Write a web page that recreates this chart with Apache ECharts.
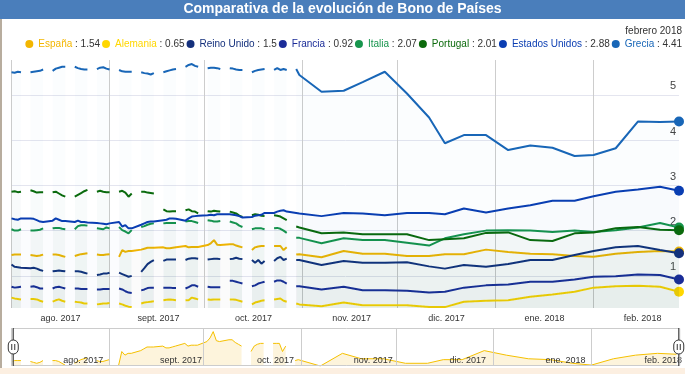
<!DOCTYPE html>
<html><head><meta charset="utf-8">
<script src="https://cdn.jsdelivr.net/npm/echarts@6/dist/echarts.min.js"></script>
<style>html,body{margin:0;padding:0;background:#fff}#c{width:685px;height:374px}</style>
</head><body><div id="c"></div>
<script>
const G = null;      // gap in the line (no quote that day)
const _ = undefined; // no point, line continues through

const titleText = 'Comparativa de la evolución de Bono de Países';
const periodText = 'febrero 2018';
const monthNames = ['ene.','feb.','mar.','abr.','may.','jun.','jul.','ago.','sept.','oct.','nov.','dic.'];

const dates = [
 '2017-08-01','2017-08-02','2017-08-03','2017-08-04','2017-08-05',
 '2017-08-07','2017-08-08','2017-08-09','2017-08-10','2017-08-11','2017-08-12',
 '2017-08-14','2017-08-15','2017-08-16','2017-08-17','2017-08-18','2017-08-19',
 '2017-08-21','2017-08-22','2017-08-23','2017-08-24','2017-08-25','2017-08-26',
 '2017-08-28','2017-08-29','2017-08-30','2017-08-31','2017-09-01','2017-09-02',
 '2017-09-04','2017-09-05','2017-09-06','2017-09-07','2017-09-08','2017-09-09',
 '2017-09-11','2017-09-12','2017-09-13','2017-09-14','2017-09-15','2017-09-16',
 '2017-09-18','2017-09-19','2017-09-20','2017-09-21','2017-09-22','2017-09-23',
 '2017-09-25','2017-09-26','2017-09-27','2017-09-28','2017-09-29','2017-09-30',
 '2017-10-02','2017-10-03','2017-10-04','2017-10-05','2017-10-06','2017-10-07',
 '2017-10-09','2017-10-10','2017-10-11','2017-10-12','2017-10-13','2017-10-14',
 '2017-10-16','2017-10-17','2017-10-18','2017-10-19','2017-10-20','2017-10-21',
 '2017-10-23','2017-10-24','2017-10-25','2017-10-26','2017-10-27','2017-10-28',
 '2017-10-30',
 '2017-10-31','2017-11-07','2017-11-14','2017-11-20','2017-11-27','2017-12-04','2017-12-11','2017-12-16','2017-12-22','2017-12-29',
 '2018-01-05','2018-01-12','2018-01-19','2018-01-26','2018-02-01','2018-02-08','2018-02-15','2018-02-22','2018-02-28'
];

const espana = [
 1.46,1.47,1.47,1.47,G,
 1.46,1.45,1.44,1.45,1.47,G,
 1.47,1.47,1.46,1.44,1.42,G,
 1.44,1.46,1.48,1.49,1.50,G,
 1.47,1.46,1.46,1.47,1.48,G,
 1.42,1.57,1.53,1.55,1.55,_,
 1.58,1.60,1.62,1.62,1.62,_,
 1.63,1.61,1.61,1.62,1.63,_,
 1.66,1.63,1.64,1.64,1.64,_,
 1.68,1.72,1.79,1.69,1.68,_,
 1.70,1.70,1.67,1.65,1.63,G,
 1.57,1.63,1.65,1.66,1.66,G,
 1.66,1.66,1.66,1.57,1.63,G,
 1.47,
 1.48,1.41,1.55,1.49,1.49,1.44,1.44,1.48,1.48,1.58,
 1.53,1.49,1.48,1.44,1.42,1.49,1.53,1.55,1.54
];
const alemania = [
 0.52,0.50,0.49,0.48,G,
 0.49,0.49,0.48,0.45,0.43,G,
 0.43,0.46,0.48,0.45,0.43,G,
 0.43,0.42,0.41,0.39,0.39,G,
 0.37,0.38,0.39,0.39,0.40,G,
 0.39,0.37,0.34,0.32,0.31,G,
 0.39,0.41,0.42,0.43,0.44,G,
 0.46,0.47,0.48,0.47,0.46,G,
 0.46,0.46,0.52,0.50,0.48,G,
 0.48,0.47,0.48,0.48,0.48,G,
 0.48,0.48,0.47,0.45,0.43,G,
 0.37,0.41,0.43,0.45,0.46,G,
 0.48,0.49,0.50,0.45,0.43,G,
 0.39,
 0.37,0.33,0.41,0.35,0.35,0.35,0.31,0.31,0.43,0.45,
 0.46,0.54,0.59,0.65,0.74,0.77,0.78,0.76,0.65
];
const reinoUnido = [
 1.25,1.20,1.19,1.18,_,
 1.17,1.18,1.16,1.13,1.11,G,
 1.10,1.11,1.12,1.11,1.10,G,
 1.10,1.10,1.09,1.07,1.05,G,
 1.02,1.03,1.05,1.05,1.07,G,
 1.07,1.04,1.01,0.98,1.00,G,
 1.09,1.17,1.26,1.31,1.35,G,
 1.33,1.36,1.36,1.36,1.36,G,
 1.35,1.38,1.39,1.39,1.38,G,
 1.36,1.37,1.38,1.38,1.37,G,
 1.37,1.38,1.40,1.38,1.37,G,
 1.35,1.29,1.35,1.27,1.33,G,
 1.33,1.39,1.42,1.35,1.38,G,
 1.35,
 1.35,1.24,1.33,1.29,1.29,1.30,1.21,1.16,1.24,1.20,
 1.26,1.35,1.35,1.46,1.55,1.63,1.66,1.57,1.50
];
const francia = [
 0.76,0.74,0.75,0.76,G,
 0.76,0.77,0.75,0.72,0.72,G,
 0.72,0.75,0.76,0.74,0.72,G,
 0.72,0.72,0.71,0.71,0.71,G,
 0.70,0.70,0.71,0.71,0.71,G,
 0.72,0.70,0.66,0.63,0.62,G,
 0.68,0.70,0.73,0.74,0.74,G,
 0.74,0.74,0.74,0.73,0.73,G,
 0.72,0.75,0.79,0.79,0.76,G,
 0.76,0.75,0.75,0.75,0.75,G,
 0.89,0.89,0.87,0.85,0.83,G,
 0.77,0.79,0.83,0.85,0.87,G,
 0.87,0.90,0.90,0.87,0.83,G,
 0.77,
 0.77,0.70,0.76,0.68,0.68,0.67,0.63,0.65,0.74,0.79,
 0.81,0.87,0.87,0.92,0.98,0.99,1.03,1.02,0.92
];
const italia = [
 2.03,2.00,2.00,2.03,G,
 2.00,2.00,2.01,2.02,2.05,G,
 2.05,2.06,2.06,2.04,2.03,G,
 2.03,2.10,2.12,2.12,2.11,G,
 2.05,2.04,2.03,2.07,2.05,G,
 2.08,2.01,1.98,1.94,2.01,G,
 2.08,2.10,2.13,2.15,2.16,G,
 2.16,2.17,2.17,2.17,2.17,G,
 2.20,2.21,2.21,2.19,2.17,G,
 2.23,2.22,2.20,2.20,2.21,G,
 2.20,2.18,2.16,2.11,2.08,G,
 2.03,2.05,2.05,2.05,2.03,G,
 2.05,2.06,2.04,2.00,1.95,G,
 1.84,
 1.84,1.72,1.83,1.79,1.79,1.73,1.67,1.83,1.92,2.00,
 2.01,2.00,1.97,2.00,1.97,2.01,2.07,2.17,2.07
];
const portugal = [
 2.86,2.87,2.85,2.86,G,
 2.89,2.87,2.84,2.85,2.85,G,
 2.85,2.86,2.82,2.78,2.75,G,
 2.75,2.79,2.83,2.87,2.90,G,
 2.86,2.88,2.86,2.85,2.85,G,
 2.86,2.88,2.84,2.75,2.82,G,
 2.86,2.86,2.84,2.83,2.82,G,
 2.47,2.43,2.42,2.43,2.43,G,
 2.45,2.47,2.43,2.42,2.38,G,
 2.43,2.42,2.44,2.43,2.42,G,
 2.42,2.40,2.38,2.33,2.30,G,
 2.34,2.36,2.35,2.33,2.32,G,
 2.34,2.33,2.31,2.27,2.23,G,
 2.09,
 2.07,1.94,1.96,1.92,1.92,1.92,1.79,1.81,1.83,1.95,
 1.96,1.79,1.77,1.94,1.96,2.05,2.08,2.02,2.01
];
const eeuu = [
 2.27,2.25,2.24,2.27,_,
 2.27,2.26,2.23,2.20,2.19,_,
 2.22,2.27,2.24,2.21,2.21,_,
 2.19,2.22,2.19,2.19,2.18,_,
 2.17,2.16,2.15,2.14,2.16,_,
 2.19,2.09,2.12,2.05,2.05,_,
 2.13,2.16,2.19,2.20,2.20,_,
 2.23,2.24,2.27,2.27,2.26,_,
 2.22,2.27,2.31,2.32,2.33,_,
 2.34,2.35,2.34,2.36,2.36,_,
 2.36,2.35,2.34,2.32,2.29,_,
 2.30,2.33,2.34,2.35,2.39,_,
 2.39,2.42,2.44,2.45,2.42,_,
 2.39,
 2.38,2.32,2.39,2.38,2.34,2.39,2.39,2.36,2.49,2.40,
 2.49,2.56,2.66,2.66,2.76,2.86,2.91,2.97,2.88
];
const grecia = [
 5.50,5.49,5.51,5.50,G,
 5.50,5.51,5.52,5.53,5.56,G,
 5.53,5.58,5.60,5.62,5.62,G,
 5.62,5.59,5.57,5.56,5.56,G,
 5.57,5.60,5.61,5.58,5.56,G,
 5.55,5.52,5.51,5.51,5.51,G,
 5.50,5.48,5.47,5.45,5.48,G,
 5.50,5.52,5.54,5.56,5.57,G,
 5.62,5.66,5.68,5.64,5.62,G,
 5.59,5.60,5.60,5.59,5.57,G,
 5.59,5.58,5.56,5.55,5.55,G,
 5.50,5.53,5.55,5.56,5.57,G,
 5.55,5.59,5.55,5.57,5.55,G,
 5.57,
 5.44,5.07,5.09,5.28,5.51,5.03,4.50,3.93,4.11,4.11,
 3.78,3.88,3.83,3.65,3.67,3.82,4.41,4.40,4.41
];

const seriesNames  = ['España','Alemania','Reino Unido','Francia','Italia','Portugal','Estados Unidos','Grecia'];
const seriesValues = [espana, alemania, reinoUnido, francia, italia, portugal, eeuu, grecia];
const seriesColors = ['#f3b600','#ffd700','#14307c','#1b2c98','#17954d','#0b6a0b','#0a3db2','#1866b7'];

function build(vals, markLast) {
  const out = [];
  vals.forEach((v, i) => { if (v !== undefined) out.push([dates[i], v]); });
  if (markLast) {
    const l = out.length - 1;
    out[l] = { value: out[l], symbol: 'circle', symbolSize: 10 };
  }
  return out;
}
function lastValue(vals) {
  for (let i = vals.length - 1; i >= 0; i--) if (vals[i] != null) return vals[i];
}

const DAY = 86400000;
const t0 = +new Date(2017, 7, 1), t1 = +new Date(2018, 1, 28);
const monthFmt = v => {
  const d = new Date(v);
  if (d.getDate() !== 1 || d.getHours() !== 0) return '';
  return monthNames[d.getMonth()] + ' ' + d.getFullYear();
};
const FONT = 'Liberation Sans, Arial, sans-serif';
const mainShift = 15.5 * DAY, navShift = 22.8 * DAY;

const chart = echarts.init(document.getElementById('c'), null, { renderer: 'canvas' });

const mainSeries = seriesNames.map((n, k) => ({
  name: n, type: 'line', xAxisIndex: 0, yAxisIndex: 0,
  data: build(seriesValues[k], true),
  symbol: 'none', showSymbol: true, showAllSymbol: true,
  lineStyle: { width: 2, color: seriesColors[k] },
  itemStyle: { color: seriesColors[k] },
  areaStyle: { color: seriesColors[k], opacity: 0.015, origin: 'start' },
  silent: true, z: 2 + k
}));

chart.setOption({
  animation: false,
  textStyle: { fontFamily: FONT },
  graphic: [
    { type: 'rect', left: 0, top: 0, shape: { width: 685, height: 19 }, style: { fill: '#4a7ebb' }, z: -1 },
    { type: 'rect', left: 0, top: 19, shape: { width: 2, height: 355 }, style: { fill: '#b8ad9e' }, z: -1 },
    { type: 'rect', left: 0, top: 368, shape: { width: 685, height: 6 }, style: { fill: '#fcefe1' }, z: -1 }
  ],
  title: [
    { text: titleText, left: 'center', top: 2, padding: 0,
      textStyle: { color: '#fff', fontSize: 14, fontWeight: 'bold', fontFamily: FONT } },
    { text: periodText, right: 3, top: 26, padding: 0,
      textStyle: { color: '#333', fontSize: 10, fontWeight: 'normal', fontFamily: FONT } }
  ],
  legend: {
    right: 3, top: 39, padding: 0, itemGap: 2, itemWidth: 8, itemHeight: 8,
    icon: 'circle', selectedMode: false,
    data: seriesNames.map((n, k) => ({ name: n, textStyle: { color: seriesColors[k] } })),
    formatter: name => name + '{v| : ' + lastValue(seriesValues[seriesNames.indexOf(name)]) + '}',
    textStyle: { fontSize: 10, fontFamily: FONT, rich: { v: { color: '#333', fontSize: 10, fontFamily: FONT } } }
  },
  grid: [
    { left: 11.5, right: 6, top: 60, bottom: 66 },
    { left: 11.5, right: 6, top: 328, height: 38 }
  ],
  xAxis: [
    { type: 'time', gridIndex: 0, position: 'bottom', min: t0, max: t1, splitNumber: 7, minInterval: 28 * DAY, maxInterval: 31 * DAY,
      axisLine: { show: false }, axisTick: { show: false }, axisLabel: { show: false },
      splitLine: { show: true, showMaxLine: false, lineStyle: { color: '#cdcdcd', width: 1 } } },
    { type: 'time', gridIndex: 0, position: 'bottom', min: t0 - mainShift, max: t1 - mainShift, splitNumber: 7, minInterval: 28 * DAY, maxInterval: 31 * DAY,
      axisLine: { show: false }, axisTick: { show: false }, splitLine: { show: false },
      axisLabel: { formatter: monthFmt, fontSize: 9, color: '#333', margin: 6, fontFamily: FONT } },
    { type: 'time', gridIndex: 1, position: 'bottom', z: 20, min: t0, max: t1, splitNumber: 7, minInterval: 28 * DAY, maxInterval: 31 * DAY,
      axisLine: { show: false }, axisTick: { show: false }, axisLabel: { show: false },
      splitLine: { show: true, showMaxLine: false, lineStyle: { color: '#cdcdcd', width: 1 } } },
    { type: 'time', gridIndex: 1, position: 'bottom', z: 21, min: t0 - navShift, max: t1 - navShift, splitNumber: 7, minInterval: 28 * DAY, maxInterval: 31 * DAY,
      axisLine: { show: false }, axisTick: { show: false }, splitLine: { show: false },
      axisLabel: { inside: true, formatter: monthFmt, fontSize: 9, color: '#333', margin: 1, fontFamily: FONT } }
  ],
  yAxis: [
    { type: 'value', gridIndex: 0, position: 'right', min: 0.29, max: 5.77, splitNumber: 5,
      axisLine: { show: false }, axisTick: { show: false },
      splitLine: { show: true, showMinLine: false, showMaxLine: false, lineStyle: { color: '#e4e5ef', width: 1 } },
      axisLabel: { inside: true, showMinLabel: false, showMaxLabel: false, verticalAlign: 'bottom',
        padding: [0, 0, 3, 0], margin: 3, fontSize: 11, color: '#444', fontFamily: FONT } },
    { type: 'value', gridIndex: 1, show: false, min: 'dataMin', max: v => v.max + 0.04 }
  ],
  dataZoom: [{
    type: 'slider', xAxisIndex: 0, filterMode: 'none', start: 0, end: 100,
    left: 11.5, right: 6, top: 328, height: 38, z: 30,
    showDetail: false, showDataShadow: false, brushSelect: false,
    moveHandleSize: 0, borderRadius: 0,
    backgroundColor: 'rgba(0,0,0,0)', fillerColor: 'rgba(0,0,0,0)', borderColor: '#cccccc',
    handleIcon: 'path://M5,0V12M5,26V38M0,17A5,5,0,0,1,10,17V21A5,5,0,0,1,0,21ZM3.5,16V22M6.5,16V22',
    handleSize: '100%',
    handleStyle: { color: '#ffffff', borderColor: '#333333', borderWidth: 1 }
  }],
  series: mainSeries.concat([{
    name: 'nav', type: 'line', xAxisIndex: 2, yAxisIndex: 1, z: 2,
    data: build(espana, false), symbol: 'none', silent: true,
    lineStyle: { width: 1, color: '#f5c000' },
    areaStyle: { color: '#fdf4dc', opacity: 1, origin: 'start' }
  }])
});
</script></body></html>
